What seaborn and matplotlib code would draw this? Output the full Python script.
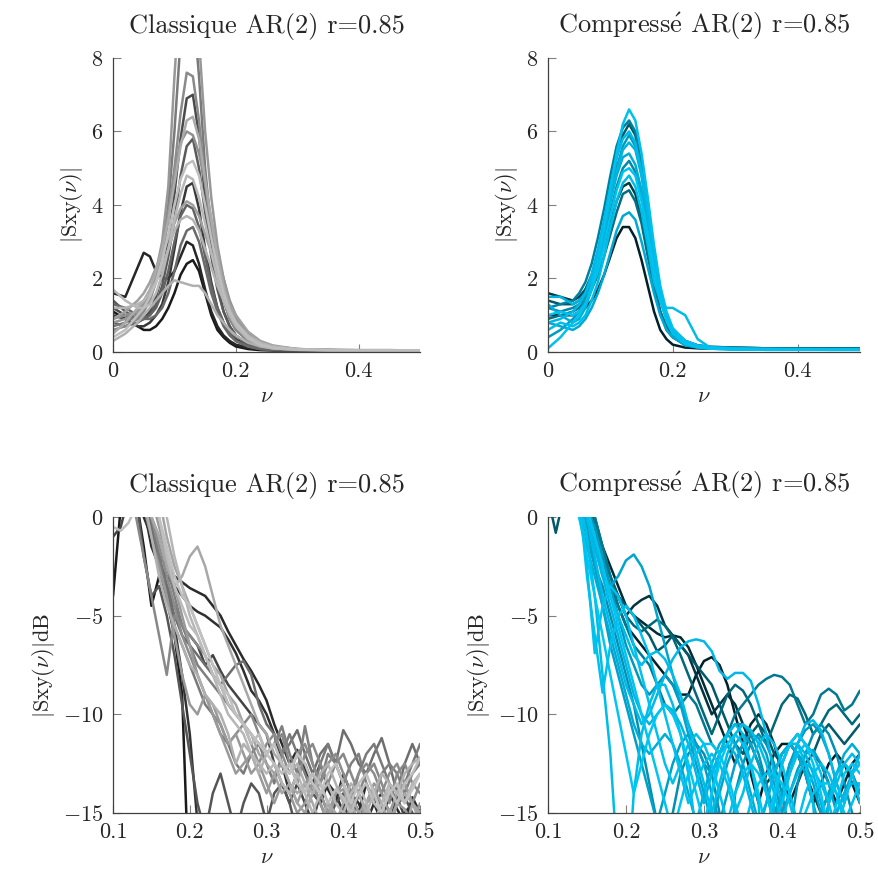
import numpy as np
import pandas as pd
import matplotlib
matplotlib.use('Agg')
import matplotlib.pyplot as plt
import seaborn as sns

# grilles de frequences
nu_lin = [0, .02, .04, .05, .06, .07, .08, .09, .10, .11, .12, .13, .14, .15,
          .16, .17, .18, .19, .20, .22, .24, .26, .30, .35, .40, .45, .50]
nu_db = list(np.round(np.arange(0.10, 0.505, 0.01), 2))

# --- Classique, lineaire (gris) ---
cl_lin = {
    'K': [1.1, 0.9, 0.7, 0.6, 0.6, 0.7, 0.9, 1.2, 1.6, 2.1, 2.4, 2.5, 2.2, 1.6, 1.0, 0.6, 0.4, 0.25, 0.15, 0.08, 0.05, 0.04, 0.04, 0.03, 0.03, 0.03, 0.03],
    'A': [1.6, 1.5, 2.3, 2.7, 2.6, 2.2, 2.0, 2.0, 2.2, 2.6, 3.0, 2.9, 2.4, 1.7, 1.1, 0.7, 0.45, 0.3, 0.2, 0.12, 0.08, 0.06, 0.05, 0.04, 0.04, 0.03, 0.03],
    'H': [1.0, 0.9, 0.7, 0.7, 0.8, 1.0, 1.3, 1.9, 2.8, 3.8, 4.5, 4.6, 3.9, 2.8, 1.9, 1.2, 0.8, 0.5, 0.35, 0.15, 0.08, 0.06, 0.05, 0.04, 0.03, 0.03, 0.03],
    'D': [1.2, 1.0, 0.9, 0.9, 1.1, 1.5, 2.1, 3.0, 4.3, 5.8, 6.9, 7.0, 5.9, 4.2, 2.8, 1.8, 1.1, 0.7, 0.45, 0.2, 0.12, 0.08, 0.05, 0.04, 0.04, 0.04, 0.03],
    'F': [1.4, 1.1, 0.9, 0.9, 1.0, 1.3, 1.8, 2.6, 3.6, 4.8, 5.6, 5.8, 5.0, 3.8, 2.6, 1.7, 1.1, 0.7, 0.45, 0.2, 0.1, 0.07, 0.05, 0.04, 0.03, 0.03, 0.03],
    'P': [0.8, 0.7, 0.8, 0.9, 1.0, 1.2, 1.6, 2.2, 3.0, 3.7, 4.0, 3.9, 3.4, 2.6, 1.8, 1.2, 0.8, 0.5, 0.3, 0.15, 0.08, 0.06, 0.05, 0.04, 0.03, 0.03, 0.03],
    'J': [1.3, 1.2, 1.0, 0.9, 0.9, 1.0, 1.2, 1.6, 2.2, 2.9, 3.3, 3.4, 3.0, 2.3, 1.6, 1.1, 0.7, 0.45, 0.3, 0.15, 0.08, 0.06, 0.05, 0.04, 0.03, 0.03, 0.03],
    'M': [0.7, 0.8, 1.0, 1.2, 1.5, 2.0, 2.8, 4.0, 6.0, 8.5, 10.0, 9.5, 7.5, 5.0, 3.3, 2.2, 1.4, 0.9, 0.6, 0.3, 0.18, 0.12, 0.07, 0.05, 0.04, 0.04, 0.04],
    'C': [0.6, 0.7, 0.9, 1.1, 1.4, 1.9, 2.6, 3.6, 5.0, 6.5, 7.6, 7.5, 6.3, 4.6, 3.2, 2.1, 1.4, 0.9, 0.6, 0.3, 0.15, 0.1, 0.06, 0.05, 0.04, 0.04, 0.04],
    'O': [0.9, 1.0, 1.1, 1.3, 1.6, 2.1, 2.8, 3.8, 4.9, 5.7, 6.0, 5.9, 5.4, 4.6, 3.6, 2.7, 2.0, 1.4, 1.0, 0.5, 0.25, 0.15, 0.08, 0.06, 0.05, 0.05, 0.04],
    'B': [0.8, 0.9, 1.1, 1.3, 1.6, 2.2, 3.0, 4.5, 7.5, 10.0, 11.0, 10.0, 8.5, 6.0, 4.2, 2.9, 2.0, 1.3, 0.9, 0.45, 0.25, 0.15, 0.08, 0.06, 0.05, 0.05, 0.04],
    'I': [0.9, 1.1, 1.4, 1.6, 1.9, 2.3, 2.7, 3.1, 3.5, 3.9, 4.1, 4.0, 3.7, 3.2, 2.7, 2.2, 1.7, 1.3, 1.0, 0.55, 0.3, 0.18, 0.08, 0.05, 0.04, 0.04, 0.04],
    'E': [0.5, 0.8, 1.2, 1.4, 1.7, 2.2, 2.8, 3.6, 4.6, 5.6, 6.3, 6.4, 5.8, 4.7, 3.6, 2.6, 1.8, 1.2, 0.8, 0.4, 0.2, 0.12, 0.07, 0.05, 0.04, 0.04, 0.04],
    'L': [0.3, 0.5, 0.8, 1.0, 1.2, 1.4, 1.6, 1.8, 1.95, 1.9, 1.85, 1.8, 1.8, 1.6, 1.3, 1.0, 0.8, 0.6, 0.45, 0.25, 0.15, 0.1, 0.06, 0.05, 0.04, 0.04, 0.04],
    'Q': [1.2, 1.2, 1.3, 1.4, 1.6, 1.9, 2.3, 2.8, 3.3, 3.6, 3.7, 3.6, 3.3, 2.8, 2.3, 1.8, 1.4, 1.1, 0.8, 0.45, 0.25, 0.15, 0.08, 0.05, 0.04, 0.04, 0.04],
    'N': [1.7, 1.4, 1.2, 1.2, 1.3, 1.6, 2.1, 2.8, 3.6, 4.3, 4.8, 4.7, 4.2, 3.5, 2.7, 2.0, 1.4, 1.0, 0.7, 0.35, 0.18, 0.1, 0.06, 0.05, 0.04, 0.04, 0.04],
    'G': [0.4, 0.6, 1.0, 1.2, 1.5, 1.9, 2.5, 3.2, 4.0, 4.7, 5.1, 5.2, 4.8, 4.0, 3.1, 2.3, 1.6, 1.1, 0.8, 0.4, 0.2, 0.12, 0.07, 0.05, 0.04, 0.04, 0.04],
}
cl_lin_colors = {'K': '#1a1a1a', 'A': '#262626', 'H': '#383838', 'D': '#4a4a4a', 'F': '#5a5a5a',
                 'P': '#636363', 'J': '#6a6a6a', 'M': '#7a7a7a', 'C': '#8a8a8a', 'O': '#909090',
                 'B': '#989898', 'I': '#a0a0a0', 'E': '#aaaaaa', 'L': '#b0b0b0', 'Q': '#b4b4b4',
                 'N': '#b8b8b8', 'G': '#bebebe'}

# --- Compresse, lineaire (bleu) ---
cp_lin = {
    'T1': [1.0, 1.0, 1.0, 1.1, 1.2, 1.4, 1.7, 2.1, 2.6, 3.1, 3.4, 3.4, 3.1, 2.5, 1.8, 1.1, 0.6, 0.35, 0.2, 0.12, 0.1, 0.09, 0.08, 0.08, 0.08, 0.07, 0.07],
    'T11': [1.6, 1.5, 1.4, 1.5, 1.7, 2.0, 2.4, 2.9, 3.5, 4.1, 4.5, 4.6, 4.3, 3.6, 2.7, 1.8, 1.1, 0.6, 0.4, 0.2, 0.14, 0.12, 0.11, 0.1, 0.1, 0.1, 0.1],
    'T3': [1.4, 1.3, 1.3, 1.4, 1.7, 2.1, 2.7, 3.5, 4.4, 5.3, 5.9, 6.2, 5.9, 5.0, 3.9, 2.6, 1.6, 1.0, 0.6, 0.3, 0.18, 0.14, 0.12, 0.1, 0.1, 0.09, 0.09],
    'T7': [0.9, 1.0, 1.1, 1.2, 1.4, 1.7, 2.1, 2.6, 3.2, 3.8, 4.3, 4.4, 4.1, 3.5, 2.6, 1.8, 1.1, 0.7, 0.45, 0.2, 0.12, 0.1, 0.09, 0.09, 0.08, 0.08, 0.08],
    'T14': [1.2, 1.3, 1.4, 1.6, 1.9, 2.4, 3.1, 3.9, 4.8, 5.6, 6.1, 6.3, 6.0, 5.1, 3.9, 2.7, 1.7, 1.0, 0.6, 0.3, 0.18, 0.14, 0.12, 0.1, 0.1, 0.09, 0.09],
    'T5': [1.2, 1.1, 1.2, 1.3, 1.5, 1.9, 2.4, 3.0, 3.8, 4.5, 5.0, 5.2, 4.9, 4.2, 3.3, 2.3, 1.4, 0.9, 0.55, 0.25, 0.15, 0.12, 0.1, 0.09, 0.08, 0.08, 0.08],
    'T9': [0.4, 0.6, 0.9, 1.1, 1.4, 1.9, 2.5, 3.3, 4.2, 5.0, 5.6, 5.9, 5.6, 4.8, 3.7, 2.5, 1.5, 0.9, 0.55, 0.25, 0.15, 0.1, 0.08, 0.07, 0.07, 0.06, 0.06],
    'T8': [0.8, 0.7, 0.6, 0.7, 0.9, 1.2, 1.6, 2.1, 2.7, 3.3, 3.7, 3.8, 3.6, 3.0, 2.3, 1.6, 1.0, 0.6, 0.4, 0.18, 0.12, 0.09, 0.07, 0.06, 0.06, 0.06, 0.06],
    'T13': [1.3, 1.0, 0.8, 0.9, 1.2, 1.7, 2.4, 3.2, 4.1, 4.8, 5.3, 5.4, 5.1, 4.4, 3.4, 2.4, 1.5, 0.9, 0.55, 0.25, 0.15, 0.1, 0.08, 0.07, 0.07, 0.06, 0.06],
    'T4': [1.5, 1.5, 1.3, 1.4, 1.6, 2.0, 2.6, 3.3, 4.1, 4.9, 5.5, 5.7, 5.5, 4.8, 3.8, 2.7, 1.7, 1.0, 0.6, 0.28, 0.16, 0.12, 0.09, 0.08, 0.07, 0.07, 0.06],
    'T12': [0.8, 0.9, 1.1, 1.3, 1.6, 2.1, 2.8, 3.6, 4.5, 5.3, 5.8, 6.0, 5.7, 4.9, 3.8, 2.5, 1.5, 0.9, 0.6, 0.3, 0.18, 0.13, 0.1, 0.08, 0.07, 0.07, 0.06],
    'T6': [0.6, 0.8, 0.7, 0.8, 1.0, 1.4, 1.9, 2.6, 3.4, 4.1, 4.6, 4.8, 4.5, 3.8, 2.9, 1.9, 1.4, 1.2, 1.2, 1.0, 0.35, 0.12, 0.07, 0.06, 0.06, 0.06, 0.06],
    'T10': [1.0, 1.1, 1.0, 1.1, 1.3, 1.7, 2.2, 2.9, 3.7, 4.4, 4.9, 5.0, 4.8, 4.1, 3.2, 2.2, 1.4, 0.85, 0.5, 0.22, 0.13, 0.09, 0.07, 0.06, 0.06, 0.06, 0.06],
    'T2': [0.1, 0.4, 0.8, 1.0, 1.3, 1.8, 2.5, 3.4, 4.4, 5.4, 6.2, 6.6, 6.3, 5.4, 4.2, 2.9, 1.8, 1.1, 0.65, 0.3, 0.16, 0.11, 0.08, 0.07, 0.07, 0.06, 0.06],
}
cp_lin_colors = {'T1': '#00202a', 'T11': '#003c48', 'T3': '#005a6a', 'T7': '#006f84', 'T14': '#0080a0',
                 'T5': '#0088a8', 'T9': '#009cc0', 'T8': '#00a8d4', 'T13': '#00acd8', 'T4': '#00b4e0',
                 'T12': '#00b8e6', 'T6': '#00bde8', 'T10': '#00c2f0', 'T2': '#00c0ee'}

# --- Classique, dB (gris) ---
cl_db = {
    'L1': [-4.0, 0.5, 1, 1, -1.5, -4.5, -3.0, -4.2, -6.0, -9.0] + [-20] * 31,
    'L9': [0.5, 1, 1, 1, 1, -0.5, -2.0, -3.5, -5.5, -8.0, -11.0, -15.5] + [-20] * 29,
    'L3': [1, 1, 1, 1, 0, -1.0, -2.0, -2.5, -3.0, -3.3,
           -3.6, -3.8, -4.0, -4.5, -5.0, -5.8, -6.5, -7.2, -7.8, -8.5,
           -9.3, -10.5, -11.5, -12.5, -11.8, -12.8, -13.5, -12.5, -13.8, -14.5,
           -13.0, -14.0, -15.0, -13.5, -14.5, -15.5, -14.0, -14.8, -15.5, -14.2, -15.0],
    'L16': [1, 1, 1, 1, 0.5, -1.5, -2.5, -3.0, -3.5, -4.0,
            -4.5, -4.8, -5.0, -5.3, -5.6, -6.2, -6.9, -7.8, -8.8, -9.3,
            -10.0, -11.0, -12.5, -14.0, -13.0, -12.5, -13.5, -14.5, -13.5, -14.0,
            -15.0, -14.0, -14.5, -15.5, -14.5, -14.0, -15.0, -16, -15.0, -14.5, -15.0],
    'L2': [-1.0, -0.5, 1, 1, 0.5, -1.0, -2.5, -3.5, -4.5, -5.5,
           -6.0, -6.5, -7.5, -7.0, -7.8, -8.5, -9.0, -9.5, -10.0, -10.5,
           -11.0, -12.5, -13.5, -14.5, -13.5, -14.5, -15.5, -14.0, -15.0, -16,
           -14.5, -15.5, -14.0, -15.0, -16, -14.8, -15.5, -14.2, -15.2, -16, -15.0],
    'L12': [1, 1, 1, 1, -2.0, -4.0, -3.5, -5.0, -7.0, -9.5,
            -12.0, -14.5, -16, -14.0, -13.0, -14.5, -16, -14.5, -13.5, -14.0,
            -15.5, -14.0, -13.5, -14.5, -16, -15.0, -14.0, -14.5, -15.5, -14.5,
            -14.0, -15.0, -16, -14.5, -14.0, -14.8, -15.5, -14.5, -14.2, -15.0, -15.5],
    'L4': [1, 1, 1, 1, 1, -0.5, -2.0, -3.5, -5.0, -6.0,
           -6.5, -7.0, -7.5, -8.0, -8.5, -8.0, -7.5, -7.3, -8.0, -9.5,
           -10.5, -11.0, -12.0, -11.5, -10.8, -12.0, -13.0, -12.0, -11.5, -12.5,
           -10.8, -11.5, -12.5, -13.0, -12.0, -11.2, -12.5, -14.0, -12.5, -11.5, -12.5],
    'L11': [1, 1, 1, 1, 1, 0, -2.0, -4.0, -5.5, -6.5,
            -7.5, -8.5, -9.5, -10.0, -11.0, -11.5, -12.5, -13.0, -12.0, -11.5,
            -12.5, -13.5, -12.0, -11.0, -12.0, -13.0, -14.0, -12.5, -11.5, -12.5,
            -13.5, -14.5, -13.0, -12.0, -11.5, -12.5, -13.5, -14.5, -13.5, -12.5, -11.5],
    'L18': [1, 1, 1, 1, 1, 0, -1.0, -2.5, -4.0, -5.5,
            -6.5, -7.5, -8.0, -8.5, -9.0, -9.5, -10.0, -10.5, -11.0, -11.5,
            -12.0, -11.5, -10.6, -12.0, -13.0, -10.6, -12.5, -13.5, -12.0, -12.5,
            -13.5, -12.5, -12.0, -13.5, -14.5, -13.0, -12.5, -13.0, -14.0, -13.0, -12.5],
    'L5': [1, 1, 1, 0, -2.0, -4.0, -6.0, -8.0, -5.0, -5.5,
           -6.0, -6.5, -7.0, -8.0, -8.5, -9.5, -10.0, -10.5, -10.0, -11.0,
           -12.0, -11.5, -11.0, -12.5, -13.5, -12.0, -11.5, -12.5, -13.5, -12.5,
           -12.0, -13.0, -14.0, -13.0, -12.5, -13.5, -14.5, -13.0, -12.5, -13.5, -14.0],
    'L15': [1, 1, 1, 1, 1, 0, -1.5, -3.0, -4.5, -6.0,
            -7.0, -8.0, -9.0, -10.0, -10.5, -11.5, -11.0, -10.5, -11.5, -12.5,
            -11.5, -11.0, -12.0, -13.0, -12.0, -11.5, -12.5, -13.5, -12.5, -12.0,
            -13.0, -14.0, -13.0, -12.5, -13.0, -14.0, -13.0, -12.5, -13.5, -14.5, -13.5],
    'L8': [1, 1, 1, 1, 0.5, -1.0, -2.5, -4.0, -6.0, -8.0,
           -9.5, -10.0, -9.0, -9.5, -10.5, -11.5, -11.0, -12.0, -13.0, -12.5,
           -13.5, -14.5, -13.5, -14.0, -15.0, -14.5, -13.5, -14.5, -15.5, -14.0,
           -13.8, -14.8, -15.5, -14.5, -14.0, -15.0, -16, -14.5, -14.8, -15.5, -14.5],
    'L17': [1, 1, 1, 1, 1, 1, -0.5, -2.0, -3.5, -5.0,
            -6.5, -8.0, -9.0, -10.0, -11.0, -12.0, -13.0, -12.5, -12.0, -13.0,
            -14.0, -13.0, -12.5, -13.5, -14.5, -13.5, -13.0, -14.0, -15.0, -14.0,
            -13.5, -14.5, -15.5, -14.5, -13.5, -14.0, -15.0, -14.0, -13.5, -14.5, -15.0],
    'L13': [1, 1, 1, 1, 1, 1, 1, -1.0, -2.5, -3.5,
            -4.5, -5.5, -6.5, -7.5, -8.0, -9.0, -9.5, -10.5, -11.0, -12.0,
            -12.5, -13.0, -14.0, -13.5, -14.5, -15.0, -14.0, -13.5, -14.5, -15.5,
            -14.5, -14.0, -15.0, -14.5, -13.8, -14.5, -15.5, -14.5, -14.0, -14.5, -15.0],
    'L6': [1, 1, 1, 1, 1, 0, -1.0, -2.5, -3.5, -3.0,
           -2.0, -1.5, -2.5, -4.0, -5.5, -6.5, -7.5, -8.5, -9.5, -10.5,
           -11.0, -12.0, -12.5, -13.5, -14.0, -13.5, -14.5, -15.5, -14.5, -15.0,
           -16, -14.5, -15.5, -14.8, -15.2, -16, -14.8, -15.5, -16, -14.5, -15.5],
    'L10': [1, 1, 1, 1, 1, -1.0, -3.0, -4.5, -5.5, -6.5,
            -7.5, -8.0, -9.0, -9.5, -10.0, -11.0, -12.5, -11.5, -12.0, -13.0,
            -12.0, -11.5, -12.5, -13.0, -12.5, -13.5, -14.0, -13.0, -12.5, -13.5,
            -14.5, -13.5, -14.0, -15.0, -14.0, -13.0, -13.5, -14.0, -13.0, -12.5, -12.2],
    'L19': [1, 1, 1, 1, 1, 1, 1, 0, -2.0, -3.5,
            -5.0, -6.0, -7.0, -8.0, -9.0, -10.0, -10.5, -11.0, -12.0, -12.5,
            -13.0, -12.5, -13.5, -14.0, -13.0, -14.0, -15.0, -14.0, -13.5, -14.5,
            -15.0, -14.0, -13.5, -14.5, -15.5, -14.5, -13.5, -14.0, -14.5, -13.5, -13.0],
    'L7': [-0.5, -0.7, -0.3, 0.5, 1, 1, 0, -2.0, -3.5, -4.5,
           -5.5, -6.0, -7.0, -8.0, -8.5, -9.5, -10.0, -10.5, -11.5, -11.0,
           -12.0, -12.5, -13.0, -12.5, -13.5, -14.0, -13.0, -13.5, -14.5, -13.8,
           -14.2, -15.0, -14.0, -13.5, -14.5, -15.0, -13.8, -14.5, -13.5, -13.0, -12.2],
    'L14': [1, 1, 1, 1, 1, 1, 0, -1.5, -3.0, -4.0,
            -4.5, -5.5, -6.5, -7.5, -8.5, -9.0, -10.0, -10.5, -11.0, -11.5,
            -12.0, -11.5, -12.5, -13.0, -12.0, -12.5, -13.5, -14.0, -13.0, -12.5,
            -13.5, -14.5, -13.5, -13.0, -14.0, -15.0, -14.0, -13.5, -14.5, -13.8, -13.0],
}
cl_db_colors = {'L1': '#1a1a1a', 'L9': '#333333', 'L3': '#2a2a2a', 'L16': '#303030', 'L2': '#444444',
                'L12': '#555555', 'L4': '#6e6e6e', 'L11': '#7a7a7a', 'L18': '#7f7f7f', 'L5': '#888888',
                'L15': '#8c8c8c', 'L8': '#999999', 'L17': '#9a9a9a', 'L13': '#a4a4a4', 'L6': '#a8a8a8',
                'L10': '#b0b0b0', 'L19': '#b6b6b6', 'L7': '#bcbcbc', 'L14': '#c0c0c0'}

# --- Compresse, dB (bleu) ---
cp_db = {
    'R17': [1, 1, 1, 1, 1, 1, -0.5, -1.5, -2.5, -3.5,
            -4.5, -5.0, -5.3, -5.6, -5.9, -6.1, -6.0, -6.1, -6.6, -7.5,
            -8.5, -9.5, -10.5, -11.5, -12.5, -11.5, -10.5, -10.0, -10.5, -11.5,
            -13.0, -14.5, -13.5, -12.5, -12.0, -12.5, -13.5, -14.5, -13.5, -12.5, -12.0],
    'R11': [1, 1, 1, 1, 1, 0, -1.0, -2.5, -3.5, -4.5,
            -5.5, -6.0, -6.5, -7.0, -7.5, -8.0, -8.5, -9.0, -9.0, -8.0,
            -7.3, -7.1, -7.5, -8.5, -10.0, -11.5, -13.0, -14.5, -13.0, -12.0,
            -11.5, -11.5, -12.0, -13.0, -14.5, -13.5, -12.5, -12.0, -12.5, -13.5, -14.5],
    'R1': [1, 1, 1, 1, 1, 1, -1.5, -2.5, -3.5, -4.0,
           -5.0, -4.5, -4.2, -4.0, -4.5, -5.5, -6.0, -6.5, -7.0, -8.0,
           -9.0, -10.0, -9.5, -9.0, -9.5, -10.5, -11.5, -12.5, -13.5, -13.0,
           -12.0, -11.5, -12.0, -13.0, -14.0, -15.0, -14.0, -13.0, -12.5, -13.0, -14.0],
    'R2': [1, -0.8, 1, 1, 1, 1, -0.5, -2.0, -3.0, -4.0,
           -4.5, -5.0, -5.5, -6.0, -6.8, -6.5, -6.0, -6.5, -7.0, -7.5,
           -8.0, -8.5, -9.5, -10.5, -11.5, -12.0, -11.0, -10.5, -11.0, -12.0,
           -12.5, -11.5, -11.0, -11.5, -12.0, -11.0, -10.5, -11.0, -11.5, -11.0, -10.5],
    'R15': [1, 1, 1, 1, 1, 1, 0, -1.5, -3.0, -4.0,
            -5.0, -5.5, -5.8, -5.5, -5.2, -5.5, -6.1, -7.0, -8.0, -9.0,
            -10.0, -11.0, -10.0, -9.0, -8.5, -8.8, -9.5, -10.5, -11.5, -10.5,
            -9.5, -9.0, -9.2, -10.0, -11.0, -10.5, -9.8, -9.5, -10.0, -10.5, -10.0],
    'R3': [1, 1, 1, 1, 1, 1, 0, -1.5, -3.0, -4.5,
           -5.5, -6.5, -7.0, -7.5, -8.5, -9.5, -10.0, -9.5, -9.0, -9.5,
           -10.5, -11.5, -12.0, -11.0, -10.0, -9.5, -9.0, -8.5, -8.2, -8.0,
           -8.1, -8.5, -9.5, -10.5, -10.0, -9.0, -8.7, -9.0, -9.8, -9.5, -8.8],
    'R8': [1, 1, 1, 1, 0.5, -1.0, -2.5, -3.5, -5.0, -6.5,
           -8.0, -9.5, -11.5, -13.5, -15.5, -20, -15.0, -13.0, -12.0, -11.5,
           -12.0, -13.0, -15.0, -20, -14.0, -12.5, -11.5, -11.0, -11.5, -12.5,
           -14.0, -16, -13.5, -12.0, -11.0, -10.5, -11.0, -12.0, -13.5, -15.0, -16],
    'R14': [1, 1, 1, 1, 1, 0.5, -0.5, -2.0, -3.5, -5.0,
            -6.5, -7.5, -8.5, -9.0, -8.5, -8.0, -8.5, -9.5, -10.5, -11.5,
            -12.5, -13.0, -12.0, -11.0, -10.5, -10.5, -11.0, -12.0, -13.5, -15.0,
            -14.0, -12.5, -11.5, -10.8, -10.5, -11.0, -12.0, -13.5, -14.5, -13.0, -12.0],
    'R18': [1, 1, 1, 1, 1, -0.5, -2.5, -4.5, -6.5, -8.0,
            -9.5, -11.0, -12.5, -14.0, -15.5, -14.0, -12.5, -11.5, -11.0, -11.5,
            -12.5, -14.0, -15.5, -14.0, -12.5, -11.5, -11.0, -11.2, -12.0, -13.5,
            -15.0, -14.0, -12.8, -12.0, -11.8, -12.5, -13.5, -15.0, -14.0, -13.0, -12.5],
    'R4': [1, 1, 1, 1, 1, 0, -1.5, -3.0, -3.5, -3.0,
           -2.2, -1.9, -2.5, -3.5, -5.0, -6.5, -8.0, -9.5, -11.0, -12.5,
           -14.0, -15.5, -14.0, -12.5, -11.5, -11.0, -11.5, -12.5, -14.0, -15.5,
           -14.0, -12.5, -12.0, -12.5, -13.5, -15.0, -14.0, -13.0, -12.5, -13.0, -14.0],
    'R10': [1, 1, 1, 1, 0, -1.5, -3.0, -4.5, -6.0, -7.5,
            -9.0, -10.5, -11.5, -12.0, -11.5, -11.0, -11.5, -12.5, -14.0, -15.5,
            -14.0, -12.5, -11.5, -11.0, -11.5, -12.5, -14.0, -15.5, -14.5, -13.0,
            -12.0, -11.5, -12.0, -13.0, -14.5, -16, -14.5, -13.0, -12.0, -11.5, -12.0],
    'R13': [1, 1, 1, 1, 1, 0, -1.5, -3.0, -4.5, -6.0,
            -7.5, -9.0, -10.0, -10.5, -10.0, -9.5, -9.8, -10.5, -11.5, -13.0,
            -14.5, -13.0, -12.0, -11.5, -12.0, -13.0, -14.5, -16, -14.5, -13.0,
            -12.0, -11.5, -11.5, -12.0, -13.0, -14.5, -16, -15.0, -14.0, -13.5, -13.5],
    'R7': [1, 1, 1, 1, 1, 0, -2.0, -4.0, -5.5, -7.0,
           -8.5, -9.5, -10.5, -10.0, -9.0, -8.0, -7.2, -6.6, -6.3, -6.2,
           -6.3, -6.8, -7.8, -8.2, -7.9, -7.9, -8.3, -9.5, -11.0, -13.0,
           -14.5, -13.0, -11.5, -10.5, -10.3, -10.8, -12.0, -13.5, -14.5, -13.0, -12.0],
    'R19': [1, 1, 1, 1, 1, 0, -1.0, -2.5, -4.0, -5.0,
            -6.0, -7.0, -7.5, -7.0, -6.8, -7.2, -8.0, -9.0, -10.5, -12.0,
            -13.5, -15.0, -13.5, -12.0, -11.0, -10.5, -10.8, -11.5, -12.5, -14.0,
            -15.5, -14.0, -13.0, -12.5, -12.8, -13.5, -14.5, -13.5, -12.5, -12.0, -12.5],
    'R6': [1, 1, 1, 1, 1, -1.0, -4.0, -8.0, -12.0, -18.0,
           -20, -14.0, -11.0, -9.5, -8.5, -8.5, -9.5, -11.0, -13.0, -16,
           -20, -14.0, -12.0, -11.0, -10.5, -11.0, -12.5, -14.5, -20, -14.5,
           -12.5, -11.5, -11.5, -12.5, -14.5, -20, -14.5, -13.0, -12.5, -13.0, -14.5],
    'R12': [1, 1, 1, 1, 1, -2.5, -6.9, -4.5, -3.5, -4.0,
            -5.0, -6.5, -8.0, -9.5, -11.0, -12.5, -13.5, -12.5, -11.5, -11.0,
            -11.5, -12.5, -14.0, -15.5, -14.0, -13.0, -12.5, -13.0, -14.0, -15.5,
            -14.5, -13.0, -12.0, -11.5, -12.0, -13.0, -14.5, -16, -14.5, -13.0, -12.5],
    'R9': [1, 1, 1, 1, 1, 0.5, -1.0, -2.5, -4.0, -5.5,
           -7.0, -8.5, -10.0, -11.5, -13.0, -14.5, -16, -14.5, -13.0, -12.0,
           -11.5, -11.5, -12.0, -13.0, -14.5, -16, -14.5, -13.5, -13.0, -13.0,
           -13.5, -14.5, -16, -15.0, -14.0, -13.5, -13.5, -14.0, -15.0, -16, -15.0],
    'R16': [1, 1, 1, 1, 0, -2.0, -4.0, -6.0, -8.0, -10.0,
            -12.0, -14.0, -12.5, -11.0, -10.0, -9.5, -10.0, -11.0, -12.5, -14.0,
            -15.5, -14.0, -12.5, -11.5, -11.0, -11.5, -12.5, -14.0, -16, -14.0,
            -12.5, -11.5, -11.0, -11.5, -12.5, -14.0, -16, -14.5, -13.0, -12.5, -13.0],
    'R5': [1, 1, 1, 1, 1, -3.0, -6.0, -8.9, -6.5, -5.0,
           -4.5, -5.0, -6.0, -7.0, -8.5, -10.0, -11.5, -13.0, -14.5, -13.5,
           -12.5, -12.0, -12.5, -13.5, -15.0, -14.0, -12.5, -11.5, -11.0, -11.5,
           -12.5, -14.0, -15.5, -14.0, -13.0, -12.5, -13.0, -14.0, -15.5, -14.5, -13.5],
}
cp_db_colors = {'R17': '#002c36', 'R11': '#00202a', 'R1': '#003440', 'R2': '#005a6a', 'R15': '#006878',
                'R3': '#007890', 'R8': '#0090b2', 'R14': '#0098bc', 'R18': '#00a0c8', 'R4': '#00a4cc',
                'R10': '#00acd6', 'R13': '#00b4e4', 'R7': '#00b8e8', 'R19': '#00bce8', 'R6': '#00bde8',
                'R12': '#00c0ee', 'R9': '#00c4f0', 'R16': '#00c6f4', 'R5': '#00c0ee'}


def to_long(nu, curves):
    frames = [pd.DataFrame({'nu': nu, 'S': v, 'courbe': k}) for k, v in curves.items()]
    return pd.concat(frames, ignore_index=True)


sns.set_style('ticks')
plt.rcParams.update({
    'font.family': 'serif',
    'font.serif': ['cmr10'],
    'mathtext.fontset': 'cm',
    'axes.formatter.use_mathtext': True,
    'font.size': 16,
})

fig = plt.figure(figsize=(8.79, 8.73), dpi=100)
axes = [
    fig.add_axes([0.1286, 0.5968, 0.3493, 0.3368]),
    fig.add_axes([0.6234, 0.5968, 0.3549, 0.3368]),
    fig.add_axes([0.1286, 0.0687, 0.3493, 0.3391]),
    fig.add_axes([0.6234, 0.0687, 0.3549, 0.3391]),
]

panels = [
    (nu_lin, cl_lin, cl_lin_colors, 'Classique AR(2) r=0.85', (0, 0.5), (0, 8)),
    (nu_lin, cp_lin, cp_lin_colors, r'Compress$\mathrm{\acute{e}}$ AR(2) r=0.85', (0, 0.5), (0, 8)),
    (nu_db, cl_db, cl_db_colors, 'Classique AR(2) r=0.85', (0.1, 0.5), (-15, 0)),
    (nu_db, cp_db, cp_db_colors, r'Compress$\mathrm{\acute{e}}$ AR(2) r=0.85', (0.1, 0.5), (-15, 0)),
]

for i, (ax, (nu, curves, colors, title, xl, yl)) in enumerate(zip(axes, panels)):
    df = to_long(nu, curves)
    sns.lineplot(data=df, x='nu', y='S', hue='courbe', hue_order=list(curves.keys()),
                 palette=colors, estimator=None, legend=False, linewidth=1.8, ax=ax)
    ax.set_xlim(*xl)
    ax.set_ylim(*yl)
    if i < 2:
        ax.set_xticks([0, 0.2, 0.4])
        ax.set_xticklabels(['0', '0.2', '0.4'])
        ax.set_yticks([0, 2, 4, 6, 8])
        ax.set_ylabel(r'$|\mathrm{Sxy}(\nu)|$', fontsize=16)
    else:
        ax.set_xticks([0.1, 0.2, 0.3, 0.4, 0.5])
        ax.set_xticklabels(['0.1', '0.2', '0.3', '0.4', '0.5'])
        ax.set_yticks([-15, -10, -5, 0])
        ax.set_ylabel(r'$|\mathrm{Sxy}(\nu)|\mathrm{dB}$', fontsize=16)
    ax.set_xlabel(r'$\nu$', fontsize=16)
    ax.set_title(title, fontsize=19, pad=18)
    sns.despine(ax=ax)
    for s in ['left', 'bottom']:
        ax.spines[s].set_color('#404040')
        ax.spines[s].set_linewidth(0.9)
    ax.tick_params(direction='in', length=6, width=0.8, color='#808080',
                   labelsize=16, pad=7)

fig.savefig('out.png', dpi=100)
